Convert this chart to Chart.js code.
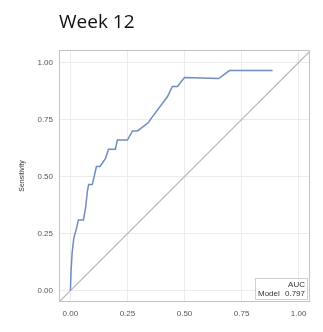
<!DOCTYPE html>
<html>
<head>
<meta charset="utf-8">
<script src="https://cdn.jsdelivr.net/npm/chart.js@4/dist/chart.umd.min.js"></script>
<style>
  html, body { margin: 0; padding: 0; background: #fff; }
  #wrap { position: relative; width: 323px; height: 332px; }
  #title { position: absolute; left: 59px; top: 8px; font: 19px "Open Sans", sans-serif; color: #111; }
</style>
</head>
<body>
<div id="wrap">
  <div id="title">Week 12</div>
  <canvas id="roc" width="323" height="332"></canvas>
</div>
<script>
// ROC curve
const fpr = [0, 0.003, 0.008, 0.015, 0.026, 0.035, 0.057, 0.066, 0.075, 0.08, 0.096, 0.114, 0.13, 0.154, 0.167, 0.197, 0.206, 0.25, 0.272, 0.294, 0.342, 0.35, 0.425, 0.447, 0.469, 0.5, 0.65, 0.697, 0.886];
const tpr = [0, 0.09, 0.17, 0.23, 0.27, 0.31, 0.31, 0.36, 0.44, 0.465, 0.465, 0.544, 0.544, 0.58, 0.62, 0.62, 0.66, 0.66, 0.70, 0.70, 0.737, 0.75, 0.85, 0.895, 0.895, 0.934, 0.93, 0.965, 0.965];
const refLine = [-0.05, 1.05];
const tickValues = [0, 0.25, 0.5, 0.75, 1];
const aucLabel = 'AUC';
const modelName = 'Model';
const aucValue = '0.797';

const frameAndLegend = {
  id: 'frameAndLegend',
  afterDraw(chart) {
    const { ctx, chartArea: a } = chart;
    ctx.save();
    ctx.strokeStyle = '#c4c4c4';
    ctx.lineWidth = 1;
    ctx.strokeRect(a.left + 0.5, a.top + 0.5, a.right - a.left - 1, a.bottom - a.top - 1);
    // AUC box
    const bx = a.right - 55, by = a.bottom - 24, bw = 52, bh = 21;
    ctx.fillStyle = '#fff';
    ctx.fillRect(bx, by, bw, bh);
    ctx.strokeStyle = '#cfcfcf';
    ctx.strokeRect(bx + 0.5, by + 0.5, bw, bh);
    ctx.fillStyle = '#333';
    ctx.font = '8px "Liberation Sans", Arial, sans-serif';
    ctx.textAlign = 'right';
    ctx.textBaseline = 'alphabetic';
    ctx.fillText(aucLabel, bx + bw - 2, by + 9);
    ctx.fillText(aucValue, bx + bw - 2, by + 18);
    ctx.textAlign = 'left';
    ctx.fillText(modelName, bx + 3, by + 18);
    ctx.restore();
  }
};

new Chart(document.getElementById('roc'), {
  type: 'scatter',
  data: {
    datasets: [
      {
        data: fpr.map((x, i) => ({ x, y: tpr[i] })),
        showLine: true,
        borderColor: '#6f8dbf',
        borderWidth: 1.5,
        pointRadius: 0,
        tension: 0
      },
      {
        data: refLine.map(v => ({ x: v, y: v })),
        showLine: true,
        borderColor: '#b5b5b5',
        borderWidth: 1.2,
        pointRadius: 0
      }
    ]
  },
  options: {
    responsive: false,
    animation: false,
    layout: { padding: { top: 50, right: 13, left: 0, bottom: 0 } },
    plugins: { legend: { display: false }, tooltip: { enabled: false } },
    scales: {
      x: {
        min: -0.05, max: 1.05,
        afterBuildTicks: s => { s.ticks = tickValues.map(v => ({ value: v })); },
        afterFit: s => { s.height = 30; },
        grid: { color: '#ebebeb', drawTicks: false },
        border: { display: false },
        ticks: {
          padding: 7,
          color: '#555',
          font: { size: 8, family: '"Liberation Sans", Arial, sans-serif' },
          callback: v => v.toFixed(2)
        }
      },
      y: {
        min: -0.05, max: 1.055,
        afterBuildTicks: s => { s.ticks = tickValues.map(v => ({ value: v })); },
        afterFit: s => { s.width = 59; },
        grid: { color: '#ebebeb', drawTicks: false },
        border: { display: false },
        title: {
          display: true,
          text: 'Sensitivity',
          color: '#333',
          padding: { top: 18, bottom: 0 },
          font: { size: 7, family: '"Liberation Sans", Arial, sans-serif' }
        },
        ticks: {
          padding: 6,
          color: '#555',
          font: { size: 8, family: '"Liberation Sans", Arial, sans-serif' },
          callback: v => v.toFixed(2)
        }
      }
    }
  },
  plugins: [frameAndLegend]
});
</script>
</body>
</html>
